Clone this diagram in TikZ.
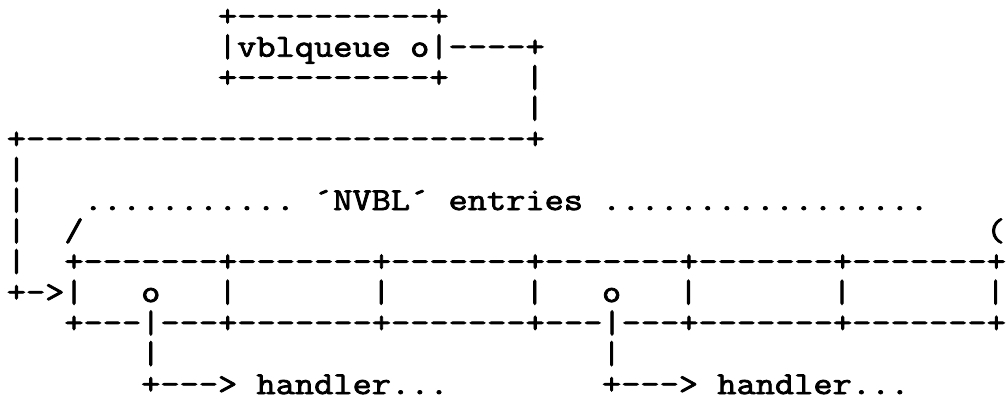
\documentclass[tikz,border=0pt]{standalone}
\usepackage{fontspec}
\setmonofont{Latin Modern Mono}[FakeStretch=1.166,FakeBold=2.5]
\begin{document}
\begin{tikzpicture}[x=0.5pt,y=-0.5pt,
  asc/.style={anchor=base west,inner sep=0pt,outer sep=0pt,
    font=\ttfamily\fontsize{16pt}{16pt}\selectfont}]
\useasboundingbox[fill=white] (0,0) rectangle (1006,401);
\newcommand\chr[4]{\node[asc] (#1) at ({6.8+19.2*#2},{26+30.67*#3}) {#4};}
% top box
\chr{boxtop}{11}{0}{+----------+}
\chr{boxmid}{11}{1}{|vblqueue o|----+}
\chr{boxbot}{11}{2}{+----------+}
\chr{vA}{27}{2}{|}
\chr{vB}{27}{3}{|}
\chr{link}{0}{4}{+--------------------------+}
\chr{vC}{0}{5}{|}
% label row
\chr{vD}{0}{6}{|}
\chr{dotsL}{4}{6}{...........}
\chr{label}{16}{6}{´NVBL´ entries}
\chr{dotsR}{31}{6}{.................}
\chr{vE}{0}{7}{|}
\chr{slash}{3}{7}{/}
\chr{paren}{51}{7}{(}
% table
\chr{vF}{0}{8}{|}
\chr{ttop}{3}{8}{+-------+-------+-------+-------+-------+-------+}
\chr{arrow}{0}{9}{+->|}
\chr{oA}{7}{9}{o}
\chr{c1}{11}{9}{|}
\chr{c2}{19}{9}{|}
\chr{c3}{27}{9}{|}
\chr{oB}{31}{9}{o}
\chr{c4}{35}{9}{|}
\chr{c5}{43}{9}{|}
\chr{c6}{51}{9}{|}
\chr{tbot}{3}{10}{+---|---+-------+-------+---|---+-------+-------+}
\chr{hA}{7}{11}{|}
\chr{hB}{31}{11}{|}
\chr{handA}{7}{12}{+---> handler...}
\chr{handB}{31}{12}{+---> handler...}
\end{tikzpicture}
\end{document}
